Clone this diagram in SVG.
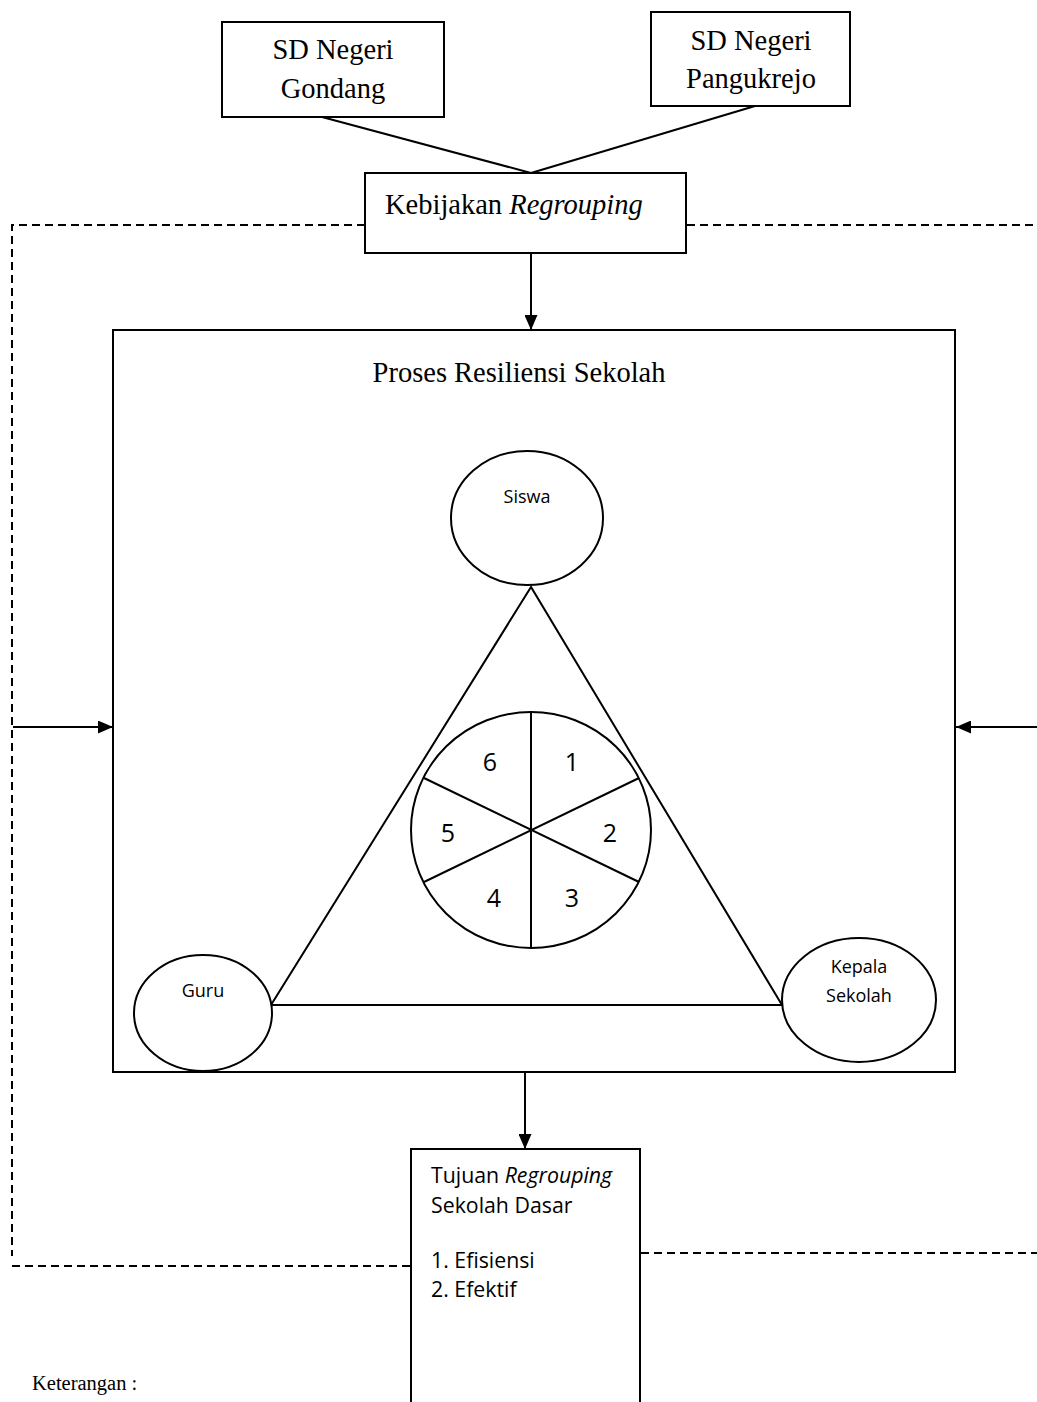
<svg xmlns="http://www.w3.org/2000/svg" width="1037" height="1402" viewBox="0 0 1037 1402">
<defs>
<style>
.box{fill:#fff;stroke:#000;stroke-width:2}
.ln{fill:none;stroke:#000;stroke-width:2}
.dash{fill:none;stroke:#000;stroke-width:2;stroke-dasharray:8 5}
.serif{font-family:"Liberation Serif","Times New Roman",serif;font-size:28.5px;fill:#000}
.sans{font-family:"Open Sans","Liberation Sans",sans-serif;font-size:18px;fill:#000}
.num{font-family:"Open Sans","Liberation Sans",sans-serif;font-size:25px;fill:#000}
.tj{font-family:"Open Sans","Liberation Sans",sans-serif;font-size:21.3px;fill:#000}
</style>
<marker id="ah" markerWidth="15" markerHeight="13" refX="15" refY="6.5" orient="auto" markerUnits="userSpaceOnUse">
<path d="M0,0 L15,6.5 L0,13 Z" fill="#000"/>
</marker>
</defs>
<rect width="1037" height="1402" fill="#fff"/>

<g id="connectors">
<line class="ln" x1="322" y1="117" x2="531" y2="173"/>
<line class="ln" x1="755" y1="106" x2="531" y2="173"/>
<path class="dash" d="M365,225 H12 V1256"/>
<line class="dash" x1="687" y1="225" x2="1037" y2="225"/>
<line class="dash" x1="12" y1="1266" x2="411" y2="1266"/>
<line class="dash" x1="641" y1="1253" x2="1037" y2="1253"/>
<line class="ln" x1="531" y1="253" x2="531" y2="330" marker-end="url(#ah)"/>
<line class="ln" x1="13" y1="727" x2="113" y2="727" marker-end="url(#ah)"/>
<line class="ln" x1="1037" y1="727" x2="956" y2="727" marker-end="url(#ah)"/>
<line class="ln" x1="525" y1="1072" x2="525" y2="1149" marker-end="url(#ah)"/>
</g>

<g id="sd-gondang">
<rect class="box" x="222" y="22" width="222" height="95"/>
<text class="serif" x="333" y="59" text-anchor="middle">SD Negeri</text>
<text class="serif" x="333" y="98" text-anchor="middle">Gondang</text>
</g>

<g id="sd-pangukrejo">
<rect class="box" x="651" y="12" width="199" height="94"/>
<text class="serif" x="751" y="50" text-anchor="middle">SD Negeri</text>
<text class="serif" x="751" y="88" text-anchor="middle">Pangukrejo</text>
</g>

<g id="kebijakan">
<rect class="box" x="365" y="173" width="321" height="80"/>
<text class="serif" x="385" y="214">Kebijakan <tspan font-style="italic">Regrouping</tspan></text>
</g>

<g id="proses">
<rect class="box" x="113" y="330" width="842" height="742"/>
<text class="serif" x="519" y="382" text-anchor="middle">Proses Resiliensi Sekolah</text>
</g>

<g id="triangle">
<path class="ln" d="M531,587 L271,1005 L782,1005 Z"/>
</g>

<g id="siswa">
<ellipse class="box" cx="527" cy="518" rx="76" ry="67"/>
<text class="sans" x="527" y="503" text-anchor="middle">Siswa</text>
</g>

<g id="guru">
<ellipse class="box" cx="203" cy="1013" rx="69" ry="58"/>
<text class="sans" x="203" y="997" text-anchor="middle">Guru</text>
</g>

<g id="kepala-sekolah">
<ellipse class="box" cx="859" cy="1000" rx="77" ry="62"/>
<text class="sans" x="859" y="973" text-anchor="middle">Kepala</text>
<text class="sans" x="859" y="1002" text-anchor="middle">Sekolah</text>
</g>

<g id="wheel">
<ellipse class="box" cx="531" cy="830" rx="120" ry="118"/>
<line class="ln" x1="531" y1="712" x2="531" y2="948"/>
<line class="ln" x1="424" y1="778" x2="639" y2="882"/>
<line class="ln" x1="639" y1="778" x2="424" y2="882"/>
<text class="num" x="572" y="771" text-anchor="middle">1</text>
<text class="num" x="610" y="842" text-anchor="middle">2</text>
<text class="num" x="572" y="907" text-anchor="middle">3</text>
<text class="num" x="494" y="907" text-anchor="middle">4</text>
<text class="num" x="448" y="842" text-anchor="middle">5</text>
<text class="num" x="490" y="771" text-anchor="middle">6</text>
</g>

<g id="tujuan">
<path class="box" d="M411,1410 V1149 H640 V1410"/>
<text class="tj" x="431" y="1183">Tujuan <tspan font-style="italic">Regrouping</tspan></text>
<text class="tj" x="431" y="1213">Sekolah Dasar</text>
<text class="tj" x="431" y="1268">1. Efisiensi</text>
<text class="tj" x="431" y="1297">2. Efektif</text>
</g>

<g id="keterangan">
<text x="32" y="1390" font-family="'Liberation Serif','Times New Roman',serif" font-size="20.5" fill="#000">Keterangan :</text>
</g>
</svg>
